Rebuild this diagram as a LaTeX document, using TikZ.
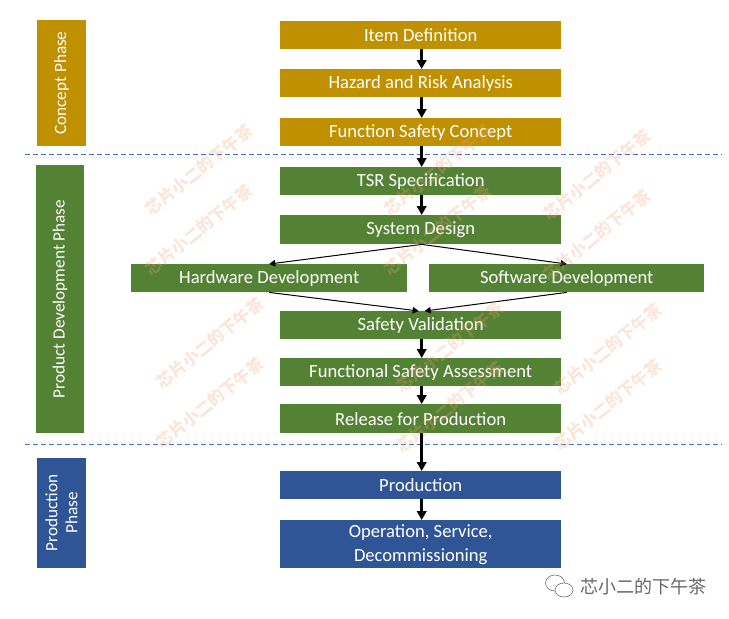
\documentclass[tikz,border=0pt]{standalone}
\usepackage{fontspec}
\setmainfont{Carlito}
\newfontfamily\cjk{Noto Sans CJK SC}
\definecolor{gold}{HTML}{BF9000}
\definecolor{grn}{HTML}{548235}
\definecolor{blu}{HTML}{2F5597}
\definecolor{sepblue}{HTML}{4472C4}
\definecolor{wmc}{HTML}{F4A070}
\usetikzlibrary{arrows.meta}
\tikzset{
 box/.style={anchor=north west,inner sep=0pt,minimum height=#1,text=white,font=\fontsize{18.6}{24}\selectfont,align=center},
 stepw/.style={minimum width=281pt},
 sidebox/.style={rotate=90,inner sep=0pt,text=white,font=\fontsize{17.2}{21}\selectfont,align=center},
 thick arrow/.style={line width=2.6pt,-{Triangle[length=9pt,width=9.5pt]}},
 thin arrow/.style={line width=1pt,-{Triangle[length=6pt,width=6.5pt]}},
 sep/.style={draw=sepblue,dash pattern=on 5pt off 3pt,line width=.8pt},
 wm/.style={rotate=39,text=wmc,opacity=.27,font=\cjk\bfseries\fontsize{16.4}{20}\selectfont,inner sep=0pt},
 logo/.style={draw=black!55,line width=.6pt}
}
\begin{document}
\begin{tikzpicture}[x=1pt,y=-1pt]
\useasboundingbox (0,0) rectangle (729,619);
% side phases
\node[sidebox,fill=gold,minimum width=126pt,minimum height=49pt] (concept) at (61.5,83) {Concept Phase};
\node[sidebox,fill=grn,minimum width=268pt,minimum height=48pt] (product) at (60,299) {Product Development Phase};
\node[sidebox,fill=blu,minimum width=110pt,minimum height=49pt,font=\fontsize{17.2}{20}\selectfont] (prodphase) at (61.5,513) {Production\\Phase};
% steps
\node[box=28pt,stepw,fill=gold] (item) at (280,21) {Item Definition};
\node[box=28pt,stepw,fill=gold] (hazard) at (280,69) {Hazard and Risk Analysis};
\node[box=28pt,stepw,fill=gold] (fsc) at (280,118) {Function Safety Concept};
\node[box=28pt,stepw,fill=grn] (tsr) at (280,167) {TSR Specification};
\node[box=29pt,stepw,fill=grn] (sysd) at (280,215) {System Design};
\node[box=28pt,minimum width=276pt,fill=grn] (hw) at (131,264) {Hardware Development};
\node[box=28pt,minimum width=275pt,fill=grn] (sw) at (429,264) {Software Development};
\node[box=28pt,stepw,fill=grn] (sv) at (280,311) {Safety Validation};
\node[box=28pt,stepw,fill=grn] (fsa) at (280,358) {Functional Safety Assessment};
\node[box=29pt,stepw,fill=grn] (rel) at (280,404) {Release for Production};
\node[box=28pt,stepw,fill=blu] (prod) at (280,471) {Production};
\node[box=48pt,stepw,fill=blu] (op) at (280,520) {Operation, Service,\\Decommissioning};
% separators
\coordinate (s1a) at (25,154.5); \coordinate (s1b) at (722,154.5);
\coordinate (s2a) at (25,444.5); \coordinate (s2b) at (722,444.5);
\draw[sep] (s1a) -- (s1b);
\draw[sep] (s2a) -- (s2b);
% thick connectors
\foreach \a/\b in {item/hazard,hazard/fsc,fsc/tsr,tsr/sysd,sv/fsa,fsa/rel,rel/prod,prod/op}
  \draw[thick arrow] ([xshift=1pt]\a.south) -- ([xshift=1pt]\b.north);
% thin connectors
\draw[thin arrow] ([xshift=1pt]sysd.south) -- (hw.north);
\draw[thin arrow] ([xshift=1pt]sysd.south) -- (sw.north);
\draw[thin arrow] (hw.south) -- ([xshift=-2pt]sv.north);
\draw[thin arrow] (sw.south) -- ([xshift=4pt]sv.north);
% watermarks
\foreach \n/\x/\y in {w1/199/170,w2/199/230,w3/210/343,w4/210/403,w5/438/170,w6/438/230,w7/450/347,w8/450/407,w9/597/175,w10/597/235,w11/608/349,w12/608/405}
  \node[wm] (\n) at (\x,\y) {芯片小二的下午茶};
% logo
\draw[logo] (555,583) ellipse (9.5pt and 8pt);
\draw[logo,fill=white] (564,590) ellipse (9pt and 7pt);
\node[inner sep=0pt,text=black!60,font=\cjk\fontsize{18}{20}\selectfont] (brand) at (643,587) {芯小二的下午茶};
\end{tikzpicture}
\end{document}
